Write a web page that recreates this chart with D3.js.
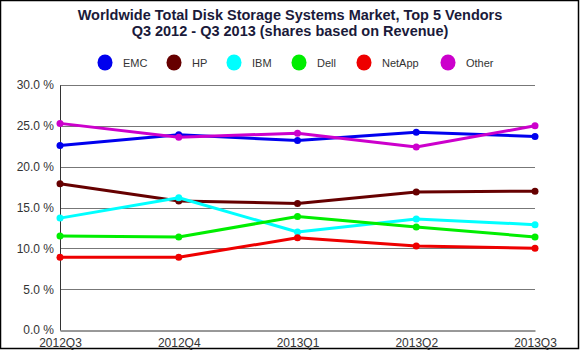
<!DOCTYPE html>
<html>
<head>
<meta charset="utf-8">
<script src="https://cdn.jsdelivr.net/npm/d3@7"></script>
<style>
  body { margin: 0; background: #fff; }
  svg { display: block; font-family: "Liberation Sans", Arial, sans-serif; }
</style>
</head>
<body>
<svg id="chart" width="580" height="350"></svg>
<script>
const quarters = ["2012Q3", "2012Q4", "2013Q1", "2013Q2", "2013Q3"];
const vendors = ["EMC", "HP", "IBM", "Dell", "NetApp", "Other"];
const colors = ["#0000ee", "#660000", "#00ffff", "#00ee00", "#ee0000", "#cc00cc"];
const emc = [22.6, 23.9, 23.2, 24.2, 23.7];
const hp = [17.9, 15.8, 15.5, 16.9, 17.0];
const ibm = [13.7, 16.2, 12.0, 13.6, 12.9];
const dell = [11.5, 11.4, 13.9, 12.6, 11.4];
const netapp = [8.9, 8.9, 11.3, 10.3, 10.0];
const other = [25.3, 23.6, 24.1, 22.4, 25.0];
const yTicks = [0, 5, 10, 15, 20, 25, 30];

const series = [emc, hp, ibm, dell, netapp, other].map((v, i) => ({name: vendors[i], color: colors[i], values: v}));

const svg = d3.select("#chart");
const margin = {left: 60, right: 45, top: 85, bottom: 20};
const W = 580, H = 350;

const x = d3.scalePoint().domain(quarters).range([margin.left, W - margin.right]);
const y = d3.scaleLinear().domain([0, 30]).range([H - margin.bottom, margin.top]);

// frame
svg.append("rect").attr("x", 0.5).attr("y", 0.5).attr("width", 578).attr("height", 348)
  .attr("fill", "#fff").attr("stroke", "#000").attr("stroke-width", 1.5);

// title
const title = svg.append("text").attr("text-anchor", "middle")
  .attr("font-size", 14.5).attr("font-weight", "bold").attr("fill", "#1a1a3a");
title.append("tspan").attr("x", 290).attr("y", 20).text("Worldwide Total Disk Storage Systems Market, Top 5 Vendors");
title.append("tspan").attr("x", 290).attr("y", 36).text("Q3 2012 - Q3 2013 (shares based on Revenue)");

// legend
const legendX = [105, 174, 234, 299, 364, 448];
const legend = svg.append("g").selectAll("g").data(series).enter().append("g")
  .attr("transform", (d, i) => `translate(${legendX[i]},62.5)`);
legend.append("ellipse").attr("rx", 7.5).attr("ry", 8).attr("fill", d => d.color);
legend.append("text").attr("x", 18).attr("y", 4).attr("font-size", 11).attr("fill", "#333").text(d => d.name);

// gridlines
svg.append("g").selectAll("line").data(yTicks.slice(1)).enter().append("line")
  .attr("x1", margin.left).attr("x2", W - margin.right)
  .attr("y1", d => Math.round(y(d)) + 0.5).attr("y2", d => Math.round(y(d)) + 0.5)
  .attr("stroke", "#777").attr("stroke-width", 1);

// y axis
const yAxis = svg.append("g").attr("transform", `translate(${margin.left},0)`)
  .call(d3.axisLeft(y).tickValues(yTicks).tickSize(0).tickPadding(6).tickFormat(d => d3.format(".1f")(d) + " %"));
yAxis.select(".domain").attr("stroke", "#333");
yAxis.selectAll("text").attr("font-size", 12).attr("fill", "#333").attr("font-family", "Liberation Sans, Arial, sans-serif");

// x axis
const xAxis = svg.append("g").attr("transform", `translate(0,${Math.round(y(0)) + 0.5})`)
  .call(d3.axisBottom(x).tickSize(0).tickPadding(8));
xAxis.select(".domain").attr("stroke", "#333");
xAxis.selectAll("text").attr("font-size", 12).attr("fill", "#333").attr("font-family", "Liberation Sans, Arial, sans-serif");

// lines
const line = d3.line().x((d, i) => x(quarters[i])).y(d => y(d));
const g = svg.append("g").selectAll("g").data(series).enter().append("g");
g.append("path").attr("d", d => line(d.values)).attr("fill", "none")
  .attr("stroke", d => d.color).attr("stroke-width", 3).attr("stroke-linejoin", "round");
g.selectAll("circle").data(d => d.values.map(v => ({v, color: d.color}))).enter().append("circle")
  .attr("cx", (d, i) => x(quarters[i])).attr("cy", d => y(d.v)).attr("r", 3.5).attr("fill", d => d.color);
</script>
</body>
</html>
